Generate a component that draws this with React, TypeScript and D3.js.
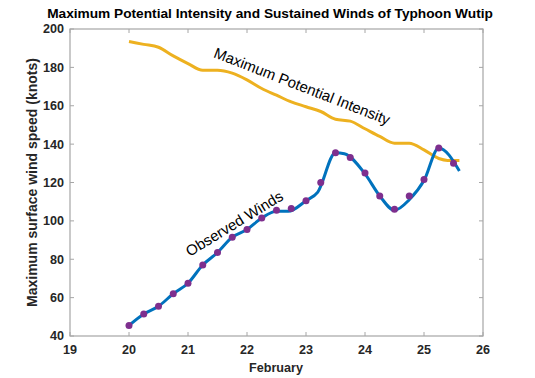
import React from "react";
import * as d3 from "d3";

const obsDays = [20, 20.25, 20.5, 20.75, 21, 21.25, 21.5, 21.75, 22, 22.25, 22.5, 22.75, 23, 23.25, 23.5, 23.75, 24, 24.25, 24.5, 24.75, 25, 25.25, 25.5];
const obsWinds = [45.5, 51.5, 55.5, 62, 67.5, 77, 83.5, 91.5, 95.5, 101.5, 105.5, 106.5, 110.5, 120, 135.5, 133, 125, 113, 106, 113, 121.5, 138, 130];

const lineDays = [20, 20.25, 20.5, 20.75, 21, 21.25, 21.5, 21.75, 22, 22.25, 22.5, 22.7, 23, 23.2, 23.5, 23.65, 24, 24.25, 24.5, 24.75, 25, 25.25, 25.6];
const lineWinds = [45.5, 51.5, 55.5, 62, 67.5, 77, 83.5, 91.5, 95.5, 101.5, 105, 105, 110.5, 115, 135.5, 135, 124.5, 113, 105.5, 111, 121, 138, 126];

const mpiDays = [20, 20.25, 20.5, 20.75, 21, 21.25, 21.5, 21.75, 22, 22.25, 22.5, 22.75, 23, 23.25, 23.5, 23.75, 24, 24.25, 24.5, 24.75, 25, 25.25, 25.4, 25.6];
const mpiValues = [193.5, 192, 190.5, 186, 182, 178.5, 178.5, 177, 173.5, 169, 165.5, 162, 159.5, 157, 153, 152, 148, 144, 140.5, 140.5, 137, 132.5, 131.5, 131.5];

const xTicks = [19, 20, 21, 22, 23, 24, 25, 26];
const yTicks = [40, 60, 80, 100, 120, 140, 160, 180, 200];

const titleText = "Maximum Potential Intensity and Sustained Winds of Typhoon Wutip";
const xLabel = "February";
const yLabel = "Maximum surface wind speed (knots)";
const mpiLabel = "Maximum Potential Intensity";
const obsLabel = "Observed Winds";

const W = 535, H = 378;
const L = 70, R = 483, T = 29, B = 336;
const FONT = "'Liberation Sans', Arial, Helvetica, sans-serif";

export default function App() {
  const x = d3.scaleLinear().domain([19, 26]).range([L, R]);
  const y = d3.scaleLinear().domain([40, 200]).range([B, T]);

  const obsLine = d3.line<number>().x((_, i) => x(lineDays[i])).y((d) => y(d)).curve(d3.curveMonotoneX);
  const mpiLine = d3.line<number>().x((_, i) => x(mpiDays[i])).y((d) => y(d)).curve(d3.curveMonotoneX);

  const axisColor = "#a6a6a6";
  const textColor = "#262626";

  return (
    <svg width={W} height={H} style={{ position: "absolute", left: 0, top: 0, background: "#fff" }} fontFamily={FONT}>
      <rect x={0} y={0} width={W} height={H} fill="#fff" />
      <text x={270} y={18} textAnchor="middle" fontSize={13.7} fontWeight="bold" fill="#000">{titleText}</text>

      <rect x={L} y={T} width={R - L} height={B - T} fill="none" stroke={axisColor} strokeWidth={1.2} />
      {xTicks.map((t) => (
        <g key={"x" + t}>
          <line x1={x(t)} x2={x(t)} y1={B} y2={B - 4} stroke={axisColor} />
          <line x1={x(t)} x2={x(t)} y1={T} y2={T + 4} stroke={axisColor} />
          <text x={x(t)} y={354} textAnchor="middle" fontSize={12.6} fontWeight="bold" fill={textColor}>{t}</text>
        </g>
      ))}
      {yTicks.map((t) => (
        <g key={"y" + t}>
          <line x1={L} x2={L + 4} y1={y(t)} y2={y(t)} stroke={axisColor} />
          <line x1={R} x2={R - 4} y1={y(t)} y2={y(t)} stroke={axisColor} />
          <text x={64} y={y(t) + 4.4} textAnchor="end" fontSize={12.6} fontWeight="bold" fill={textColor}>{t}</text>
        </g>
      ))}
      <text x={276} y={372} textAnchor="middle" fontSize={12.6} fontWeight="bold" fill={textColor}>{xLabel}</text>
      <text transform={`translate(37,${(T + B) / 2}) rotate(-90)`} textAnchor="middle" fontSize={14} fontWeight="bold" fill={textColor}>{yLabel}</text>

      <path d={mpiLine(mpiValues) || ""} fill="none" stroke="#EDB120" strokeWidth={3} strokeLinejoin="round" />
      <path d={obsLine(lineWinds) || ""} fill="none" stroke="#0072BD" strokeWidth={3} strokeLinejoin="round" />
      {obsWinds.map((v, i) => (
        <circle key={i} cx={x(obsDays[i])} cy={y(v)} r={3.5} fill="#7E2F8E" />
      ))}

      <text transform={`translate(${x(21.42)},${y(185.4)}) rotate(21.3)`} fontSize={15} fill="#000">{mpiLabel}</text>
      <text transform={`translate(${x(21.03)},${y(81.2)}) rotate(-31.5)`} fontSize={15} fill="#000">{obsLabel}</text>
    </svg>
  );
}
